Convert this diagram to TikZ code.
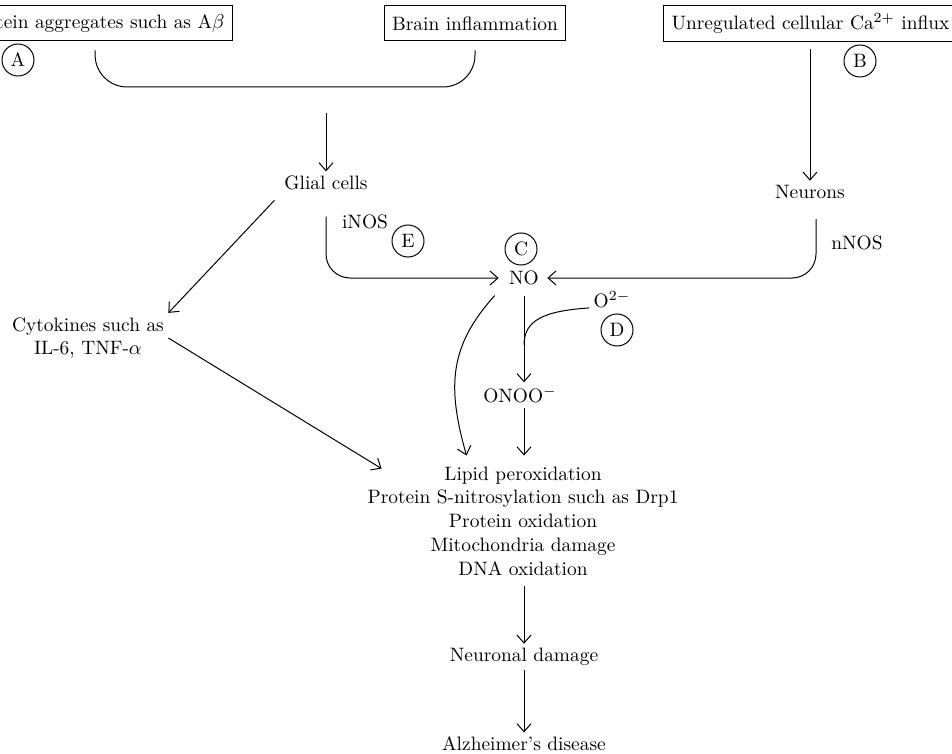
\documentclass[tikz,border=0pt]{standalone}
\usepackage{amsmath,amssymb}
\usepackage{tikz}
\usetikzlibrary{arrows.meta}

\begin{document}
\begin{tikzpicture}[x=0.5pt,y=-0.5pt,->,>={Straight Barb[length=4pt,width=7pt]},line width=0.5pt,
    font=\fontsize{9.7}{11.9}\selectfont,
    box/.style={draw,inner sep=4pt,minimum height=17.5pt},
    txt/.style={inner sep=2pt,align=center},
    tag/.style={circle,draw,inner sep=0pt,minimum size=16pt}]

      \useasboundingbox (0,0) rectangle (952,754);
      \clip (0,0) rectangle (952,754);

      \node[box,anchor=east] (prot)  at (233,23.5) {Protein aggregates such as A$\beta$};
      \node[box]             (brain) at (475,23.5) {Brain inflammation};
      \node[box,anchor=west] (ca)    at (663,23.5) {Unregulated cellular Ca$^{2+}$ influx};

      \node[tag] (tA) at (18,60)  {A};
      \node[tag] (tB) at (860,61) {B};

      \node[txt] (glial)   at (326,183) {Glial cells};
      \node[txt] (neurons) at (810,192) {Neurons};
      \node[txt] (cyto)    at (88,338)  {Cytokines such as\\IL-6, TNF-$\alpha$};
      \node[txt] (inos)    at (365,222) {iNOS};
      \node[tag] (tE)      at (408,241) {E};
      \node[txt] (nnos)    at (857,243) {nNOS};
      \node[tag] (tC)      at (521,249) {C};
      \node[txt] (no)      at (524,278) {NO};
      \node[txt] (o2)      at (612,300) {O$^{2-}$};
      \node[tag] (tD)      at (617,330) {D};
      \node[txt] (onoo)    at (520,395) {ONOO$^{-}$};
      \node[txt,outer sep=3.5pt] (lipid) at (523,521)
        {Lipid peroxidation\\Protein S-nitrosylation such as Drp1\\Protein oxidation\\Mitochondria damage\\DNA oxidation};
      \node[txt] (neur) at (524,657) {Neuronal damage};
      \node[txt] (ad)   at (524,744) {Alzheimer's disease};

      \coordinate (brk)    at (326,87);
      \coordinate (brkout) at (326,113);
      \coordinate (join)   at (524,345);

      \draw[-,rounded corners=16pt,shorten <=4.5pt,shorten >=4.5pt]
        (prot.south) -- (prot.south |- brk) -- (brain.south |- brk) -- (brain.south);
      \draw (brkout) -- (glial);
      \draw[shorten <=3.5pt] (ca.south -| neurons) -- (neurons);

      \draw[shorten <=4pt] (glial.south west) -- (cyto.north east);
      \draw (cyto.east) -- ([shift={(25,13)}]lipid.north west);

      \draw[rounded corners=12pt,shorten <=11pt,shorten >=3pt] (glial.south) |- (no.west);
      \draw[rounded corners=12pt,shorten <=8pt,shorten >=2pt] ([xshift=3pt]neurons.south) |- (no.east);

      \draw[shorten <=3pt] (no.south) -- (no.south |- onoo.north);
      \draw[-] (o2.base west) .. controls +(-45,3) and +(0,-25) .. (join);
      \draw ([shift={(-10,6)}]no.south west) .. controls +(-45,50) and +(-20,-70) .. ([shift={(110,0)}]lipid.north west);
      \draw (onoo.south -| no) -- (lipid.north -| no);

      \draw (lipid.south -| no) -- (neur.north -| no);
      \draw (neur.south -| no) -- (ad.north -| no);
\end{tikzpicture}
\end{document}
